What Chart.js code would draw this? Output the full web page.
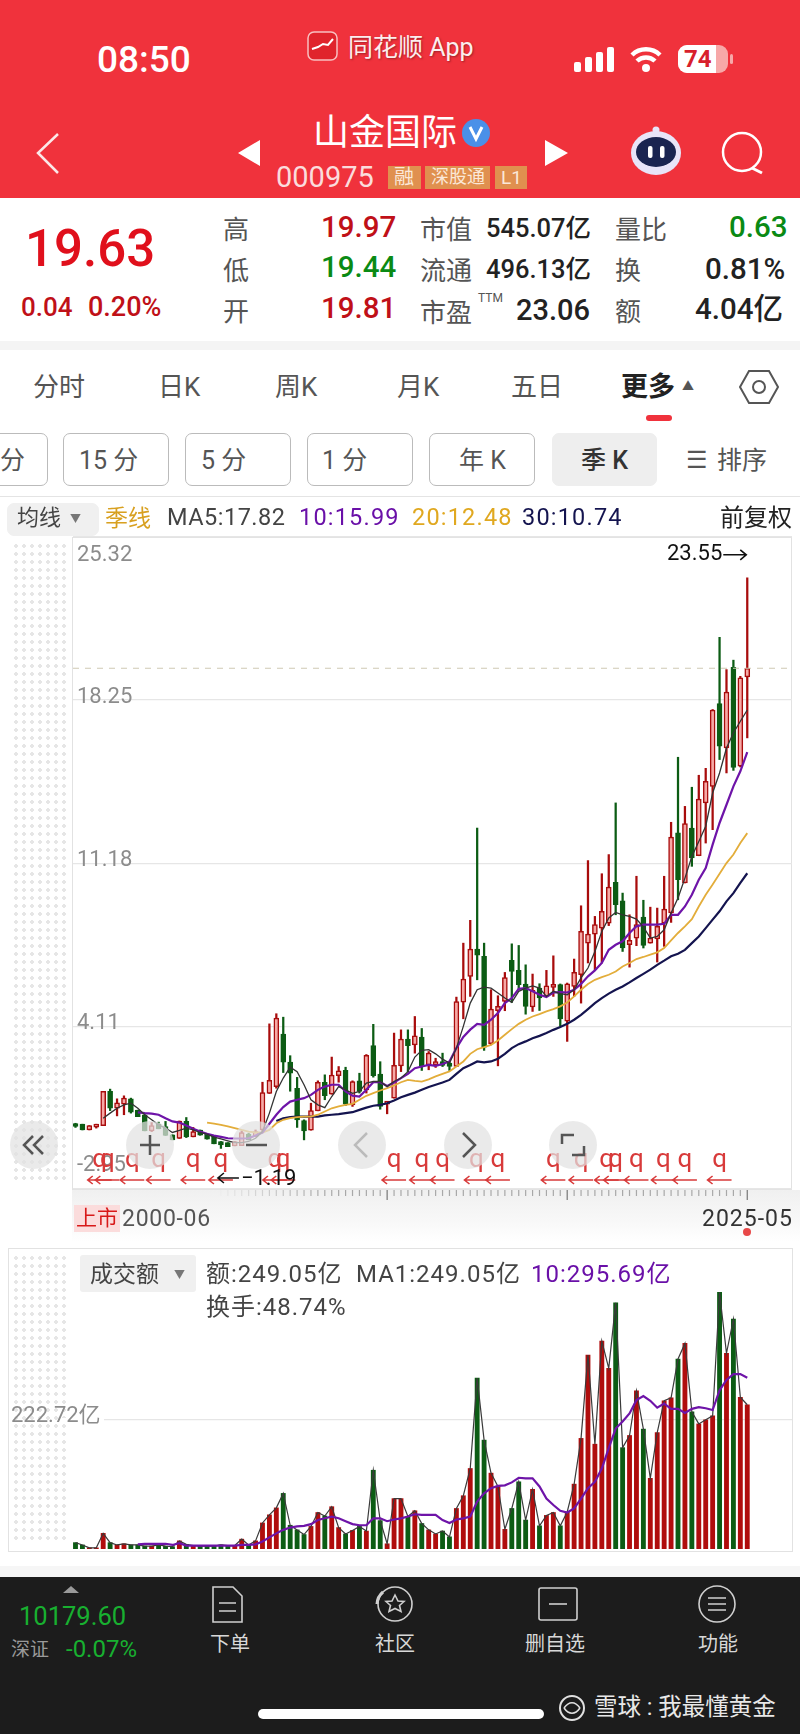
<!DOCTYPE html>
<html>
<head>
<meta charset="utf-8">
<script src="https://cdn.jsdelivr.net/npm/chart.js@4"></script>
<style>
html, body { margin: 0; padding: 0; background: #fff; }
#page { position: relative; width: 800px; height: 1734px; overflow: hidden; font-family: Roboto, "Noto Sans CJK SC", sans-serif; }
.t { position: absolute; white-space: nowrap; transform: translateY(-50%); line-height: 1; }
.box { position: absolute; box-sizing: border-box; }
canvas { position: absolute; left: 0; }
.dots { position: absolute; background-image: radial-gradient(#e6e6e6 1.6px, transparent 1.8px); background-size: 8px 8px; }
.circle { position: absolute; width: 48px; height: 48px; border-radius: 50%; background: rgba(226,226,226,.72); z-index: 5; }
.circle svg { position: absolute; left: 0; top: 0; }
</style>
</head>
<body>
<div id="page">
  <div class="box" style="left:0;top:0;width:800px;height:198px;background:#f0323c"></div>
  <div class="box" style="left:0;top:341px;width:800px;height:9px;background:#f4f4f4"></div>
  <div class="box" style="left:0;top:496px;width:800px;height:1px;background:#e4e4e4"></div>

  <!-- top bar icons -->
  <svg class="box" style="left:0;top:0" width="800" height="198" fill="none">
    <rect x="308" y="32" width="29" height="28" rx="6" fill="#e0242c" stroke="#f8c0c0" stroke-width="1.5"/>
    <path d="M312 49l6-2 5-3 5 1 5-6" stroke="#fff" stroke-width="2"/>
    <g fill="#fff">
      <rect x="574" y="62" width="7" height="10" rx="2"/><rect x="585" y="57" width="7" height="15" rx="2"/>
      <rect x="596" y="52" width="7" height="20" rx="2"/><rect x="607" y="47" width="7" height="25" rx="2"/>
      <rect x="678" y="45" width="50" height="28" rx="9" fill="#f7a8a8"/>
      <path d="M687 45h29v28h-29a9 9 0 0 1-9-9v-10a9 9 0 0 1 9-9z"/>
      <rect x="730" y="54" width="3" height="10" rx="1.5" fill="#f7a8a8"/>
      <circle cx="646" cy="68" r="4"/>
    </g>
    <path d="M632 55a20 20 0 0 1 28 0M637 61a13 13 0 0 1 18 0" stroke="#fff" stroke-width="4.5"/>
    <path d="M58 134L38 153l20 20" stroke="#fbe8e8" stroke-width="2.5"/>
    <path d="M260 140v26l-22-13zM545 140v26l23-13z" fill="#fff"/>
    <circle cx="476" cy="133" r="14" fill="#4a90e8"/>
    <path d="M470 127l6 12 6-12" stroke="#fff" stroke-width="3"/>
    <circle cx="742" cy="152" r="19" stroke="#fff" stroke-width="2.5"/>
    <path d="M752 168l10 5" stroke="#fff" stroke-width="3"/>
    <circle cx="656" cy="130" r="3.5" fill="#e8e4f8"/>
    <ellipse cx="656" cy="153" rx="25" ry="22" fill="#e8e4f8"/>
    <ellipse cx="656" cy="152" rx="20" ry="15" fill="#1a2450"/>
    <rect x="648" y="146" width="4.5" height="12" rx="2" fill="#fff"/><rect x="660" y="146" width="4.5" height="12" rx="2" fill="#fff"/>
  </svg>
  <div class="box" style="left:388px;top:166px;width:33px;height:23px;background:#e0904f"></div>
  <div class="box" style="left:425px;top:166px;width:65px;height:23px;background:#e0904f"></div>
  <div class="box" style="left:495px;top:166px;width:32px;height:23px;background:#e0904f"></div>

  <div id="labels"></div>

  <!-- price pane -->
  <div class="dots" style="left:12px;top:542px;width:58px;height:640px"></div>
  <div class="box" style="left:72px;top:537px;width:720px;height:653px;border:1.5px solid #e2e2e2;background:#fff"></div>
  <div class="box" style="left:72px;top:1190px;width:728px;height:52px;background:linear-gradient(#f0f0f0,#f8f8f8 60%,#fff)"></div>
  <canvas id="priceChart" style="top:500px"></canvas>

  <div class="circle" style="left:10px;top:1121px"><svg width="48" height="48" fill="none" stroke="#555" stroke-width="2.5"><path d="M23 15l-9 9 9 9M33 15l-9 9 9 9"/></svg></div>
  <div class="circle" style="left:126px;top:1121px"><svg width="48" height="48" fill="none" stroke="#555" stroke-width="2.5"><path d="M14 24h20M24 14v20"/></svg></div>
  <div class="circle" style="left:232px;top:1121px"><svg width="48" height="48" fill="none" stroke="#555" stroke-width="2.5"><path d="M14 24h21"/></svg></div>
  <div class="circle" style="left:338px;top:1121px"><svg width="48" height="48" fill="none" stroke="#bbb" stroke-width="2.5"><path d="M29 12L17 24l12 12"/></svg></div>
  <div class="circle" style="left:444px;top:1121px"><svg width="48" height="48" fill="none" stroke="#555" stroke-width="2.5"><path d="M19 12l12 12-12 12"/></svg></div>
  <div class="circle" style="left:549px;top:1121px"><svg width="48" height="48" fill="none" stroke="#555" stroke-width="2.5"><path d="M13 23v-9h12M35 25v9H23"/></svg></div>

  <div class="box" style="left:74px;top:1205px;width:46px;height:27px;background:#fbdcdc"></div>
  <div class="box" style="left:743px;top:1228px;width:8px;height:8px;border-radius:50%;background:#e84848"></div>

  <!-- volume pane -->
  <div class="dots" style="left:12px;top:1254px;width:58px;height:290px"></div>
  <div class="box" style="left:8px;top:1248px;width:785px;height:304px;border:1.5px solid #e2e2e2"></div>
  <div class="box" style="left:80px;top:1255px;width:116px;height:37px;background:#f0f0f0;border-radius:3px"></div>
  <canvas id="volumeChart" style="top:1240px"></canvas>

  <!-- bottom bar -->
  <div class="box" style="left:0;top:1566px;width:800px;height:11px;background:#f6f6f6"></div>
  <div class="box" style="left:0;top:1577px;width:800px;height:157px;background:#1c1c1c"></div>
  <svg class="box" style="left:0;top:1577px;z-index:2" width="800" height="157" fill="none" stroke="#cfcfcf" stroke-width="1.6">
    <path d="M63 16l8-7 8 7z" fill="#9a9a9a" stroke="none"/>
    <path d="M213 10h20l9 9v26h-29zM219 26h17M219 34h17"/>
    <circle cx="395" cy="27" r="17"/><path d="M383 15a17 17 0 0 0-6 12" stroke-width="3"/><path d="M395 18l3 6 6 .5-4.500 4 1.500 6-6-3-6 3 1.500-6-4.500-4 6-.5z"/>
    <rect x="539" y="11" width="38" height="32" rx="2"/><path d="M549 27h18"/>
    <circle cx="717" cy="27" r="18"/><path d="M708 21h18M708 27h18M708 33h18"/>
    <circle cx="572" cy="131" r="12" stroke="#e0e0e0" stroke-width="2"/><path d="M564 131c5-7 11-7 16 0M564 131c5 7 11 7 16 0" stroke="#e0e0e0" stroke-width="1.6"/>
  </svg>
  <div class="box" style="left:258px;top:1709px;width:286px;height:10px;border-radius:5px;background:#fff;z-index:3"></div>
</div>

<script>
const opens = [-0.11,-0.14,-0.39,-0.20,-0.20,1.28,0.55,0.73,0.96,0.47,0.27,-0.43,-0.14,-0.24,-0.60,-0.76,-0.02,-0.69,-0.39,-0.57,-0.67,-0.89,-0.94,-1.08,-1.07,-0.57,-0.67,-0.39,1.19,1.49,3.77,2.55,1.42,0.02,-0.40,0.44,1.68,1.16,1.96,2.19,0.70,1.74,1.35,3.27,2.03,0.73,0.99,2.39,3.55,3.30,3.64,2.43,2.43,2.58,2.51,2.36,5.15,6.27,7.45,7.14,3.35,4.78,5.18,6.96,6.53,5.94,4.94,5.76,5.40,5.79,5.91,4.33,5.83,6.34,7.71,8.10,8.36,8.58,10.35,9.55,7.64,7.93,8.84,7.71,7.89,8.58,9.02,12.49,10.32,12.70,11.50,13.79,14.51,18.10,16.17,19.67,15.38,19.25];
const highs = [-0.10,-0.14,-0.20,-0.14,1.28,1.38,0.96,1.09,0.99,0.47,0.27,-0.07,-0.05,-0.02,-0.60,0.00,0.15,-0.28,-0.39,-0.57,-0.67,-0.89,-0.94,-0.89,-0.43,-0.53,-0.39,1.68,4.21,4.65,4.50,2.83,1.89,0.05,0.77,1.74,2.00,2.77,2.36,2.33,1.74,2.07,2.88,4.19,2.57,0.84,3.81,3.95,3.95,4.53,4.01,3.01,2.72,2.94,2.58,5.37,7.71,8.70,12.70,7.71,5.69,5.43,6.44,7.68,7.61,6.77,6.37,5.95,6.53,7.16,5.94,5.98,7.02,9.33,11.29,8.87,10.72,11.55,13.79,9.88,8.94,10.61,9.57,9.27,9.23,10.61,12.95,15.77,13.64,14.47,14.99,15.29,17.84,20.97,19.57,19.98,19.28,23.55];
const lows = [-0.28,-0.39,-0.39,-0.31,-0.20,0.45,0.22,0.27,0.34,0.19,-0.43,-0.46,-0.34,-0.63,-0.82,-0.76,-0.72,-0.69,-0.62,-0.79,-0.99,-1.19,-1.11,-1.08,-1.07,-0.82,-0.67,-0.46,1.19,1.42,2.10,1.29,-0.28,-0.82,-0.40,0.44,0.92,1.16,1.68,0.67,0.63,1.21,1.21,1.90,0.51,0.31,0.99,2.14,2.14,2.94,2.19,2.22,2.32,2.36,2.19,2.36,4.43,5.40,6.12,3.06,3.30,2.39,4.78,5.14,5.69,4.63,4.75,4.79,5.40,5.40,4.10,3.45,5.40,5.11,6.85,6.56,6.85,8.47,8.94,7.35,6.67,7.60,7.50,7.71,6.89,7.57,8.61,9.59,10.32,11.04,11.50,12.05,12.63,15.67,15.09,15.20,15.35,16.61];
const closes = [-0.20,-0.39,-0.20,-0.14,1.28,0.55,0.79,0.99,0.38,0.19,-0.43,-0.20,-0.34,-0.63,-0.82,0.00,-0.69,-0.46,-0.62,-0.79,-0.99,-1.04,-1.11,-0.89,-0.50,-0.82,-0.46,1.23,1.76,4.46,2.55,2.07,0.05,-0.43,0.45,1.68,1.10,1.99,2.17,0.73,1.71,1.28,2.85,1.96,0.63,0.81,2.41,3.55,3.26,3.69,2.36,2.94,2.58,2.41,2.36,5.18,6.15,7.45,7.19,3.20,4.85,4.97,6.22,6.48,5.91,4.97,5.66,5.33,5.86,5.91,4.42,5.95,6.44,8.22,8.10,8.52,9.09,10.14,9.38,7.50,7.83,8.51,7.61,7.93,8.44,9.19,12.31,10.46,12.89,11.40,13.96,14.73,17.82,16.25,18.60,15.33,19.21,19.63];

const ma5 = [null,null,null,null,0.12,0.34,0.55,0.70,0.77,0.55,0.27,0.05,-0.17,-0.31,-0.50,-0.41,-0.31,-0.39,-0.50,-0.57,-0.70,-0.78,-0.86,-0.94,-0.94,-0.89,-0.75,-0.46,0.34,1.28,1.86,2.33,2.14,1.57,0.92,0.70,0.58,1.06,1.49,1.35,1.20,1.28,1.64,1.71,1.71,1.49,1.71,1.86,2.14,2.77,3.06,3.09,2.91,2.68,2.51,3.16,4.10,5.11,5.69,5.80,5.76,5.55,5.33,5.14,5.62,5.76,5.86,5.76,5.40,5.62,5.52,5.47,5.69,6.20,6.63,7.35,8.22,8.80,9.04,8.94,8.87,8.75,8.41,7.93,8.00,8.29,9.02,9.67,10.53,11.47,12.12,12.78,14.22,15.09,16.17,16.82,17.33,17.82];
const ma10 = [null,null,null,null,null,null,null,null,null,0.37,0.34,0.32,0.27,0.12,-0.02,-0.07,-0.20,-0.34,-0.46,-0.56,-0.63,-0.69,-0.75,-0.76,-0.76,-0.75,-0.63,-0.50,-0.12,0.27,0.60,0.84,0.92,0.99,1.13,1.35,1.49,1.57,1.57,1.28,1.10,1.06,1.35,1.68,1.68,1.52,1.67,1.86,2.04,2.29,2.36,2.43,2.39,2.47,2.58,3.16,3.64,3.96,4.21,4.17,4.39,4.68,5.11,5.33,5.73,5.76,5.62,5.47,5.37,5.57,5.59,5.57,5.69,5.94,6.27,6.53,6.85,7.42,7.64,7.79,8.15,8.44,8.51,8.51,8.51,8.55,8.94,8.94,9.30,9.81,10.46,10.97,11.98,12.92,13.71,14.51,15.16,15.99];
const ma20 = [null,null,null,null,null,null,null,null,null,null,null,null,null,null,null,null,null,null,null,-0.07,-0.12,-0.17,-0.24,-0.31,-0.39,-0.46,-0.50,-0.50,-0.39,-0.10,0.05,0.12,0.17,0.19,0.19,0.27,0.41,0.55,0.63,0.70,0.74,0.92,1.09,1.21,1.32,1.42,1.54,1.68,1.78,1.74,1.71,1.80,1.93,2.04,2.15,2.36,2.58,2.91,3.11,3.20,3.30,3.49,3.74,3.98,4.21,4.39,4.53,4.63,4.75,4.85,4.97,5.14,5.40,5.69,5.94,6.12,6.24,6.34,6.48,6.70,6.85,7.02,7.11,7.21,7.31,7.50,7.83,8.15,8.44,8.75,9.30,9.81,10.25,10.72,11.18,11.55,12.05,12.48];
const ma30 = [null,null,null,null,null,null,null,null,null,null,null,null,null,null,null,null,null,null,null,null,null,null,null,null,null,null,null,null,null,0.00,0.12,0.17,0.19,0.19,0.19,0.19,0.24,0.27,0.30,0.34,0.38,0.48,0.58,0.66,0.70,0.77,0.89,1.03,1.13,1.23,1.35,1.47,1.57,1.67,1.78,2.04,2.29,2.43,2.58,2.54,2.58,2.70,2.91,3.16,3.33,3.45,3.59,3.69,3.81,3.95,4.07,4.21,4.39,4.60,4.85,5.11,5.33,5.52,5.69,5.83,6.01,6.20,6.38,6.56,6.77,6.95,7.14,7.25,7.42,7.71,8.00,8.36,8.73,9.09,9.52,9.88,10.32,10.74];

// 成交额, 亿
const amounts = [11,7,2,2,27,11,7,9,7,7,5,5,7,5,4,14,8,6,5,5,5,7,6,6,17,7,14,45,59,71,96,41,33,25,39,63,57,73,37,26,32,39,31,136,49,9,87,87,56,66,44,33,26,31,21,70,92,139,295,188,131,108,34,70,116,50,103,40,58,63,40,64,112,191,335,181,359,312,425,175,196,273,207,122,201,256,261,328,355,237,216,223,230,443,338,397,262,249.05];
const amountMa10 = [null,null,null,null,null,null,null,null,null,8,9,9,9,9,7,10,6,6,6,6,6,6,6,6,7,7,8,13,20,27,33,37,39,40,43,50,53,56,53,48,43,41,41,53,53,48,51,53,56,60,59,59,59,50,45,51,53,56,82,96,105,109,110,115,123,122,122,108,87,76,66,63,70,87,105,116,139,174,208,220,234,257,264,256,244,251,242,242,235,242,245,243,240,274,292,302,302,295.69];

const priceTicks = [25.32, 18.25, 11.18, 4.11, -2.95];
const amountTicks = [222.72];
const lastClose = 19.63;
const highMark = 23.55;
const lowMark = -1.19;
const lowMarkIndex = 21;
// 闪电信号 q 的位置(第几根K线)
const signalIndex = [3.5,4.6,8.2,12,17,21,28.8,30,46,50,53,57.9,61,69,73,76.7,78,81,84.9,88,93];

const RED = '#a80c0c', PINK = '#f6a9a6', GREEN = '#0c5c14';
const isUp = i => closes[i] >= opens[i];
const xMin = -0.36, xMax = 103.46;

function linea(valores, color, ancho) {
    return {
        type: 'line',
        data: valores.map((v, i) => ({x: i, y: v})),
        borderColor: color,
        borderWidth: ancho,
        pointRadius: 0,
        tension: 0,
        order: 0
    };
}

const marcas = {
    id: 'marcas',
    afterDatasetsDraw(chart) {
        const {ctx, chartArea, scales: {x, y}} = chart;
        ctx.save();
        // dashed last price
        ctx.strokeStyle = '#cfc9b4';
        ctx.lineWidth = 1.2;
        ctx.setLineDash([6, 6]);
        ctx.beginPath();
        ctx.moveTo(chartArea.left, y.getPixelForValue(lastClose));
        ctx.lineTo(chartArea.right, y.getPixelForValue(lastClose));
        ctx.stroke();
        ctx.setLineDash([]);

        // axis labels
        ctx.font = '22px Roboto';
        ctx.fillStyle = '#8c8c8c';
        ctx.textBaseline = 'middle';
        ctx.fillText(priceTicks[0], chartArea.left + 4, y.getPixelForValue(priceTicks[0]) + 18);
        ctx.fillText(priceTicks[1], chartArea.left + 4, y.getPixelForValue(priceTicks[1]) - 3);
        ctx.fillText(priceTicks[2], chartArea.left + 4, y.getPixelForValue(priceTicks[2]) - 3);
        ctx.fillText(priceTicks[3], chartArea.left + 4, y.getPixelForValue(priceTicks[3]) - 3);
        ctx.fillText(priceTicks[4], chartArea.left + 4, y.getPixelForValue(priceTicks[4]) - 24);

        // q signals
        ctx.textAlign = 'center';
        signalIndex.forEach(idx => {
            const px = x.getPixelForValue(idx);
            ctx.fillStyle = '#d83a3a';
            ctx.font = '26px Roboto';
            ctx.fillText('q', px, chartArea.bottom - 29);
            ctx.strokeStyle = '#d83a3a';
            ctx.lineWidth = 1.6;
            ctx.beginPath();
            ctx.moveTo(px + 12, chartArea.bottom - 9);
            ctx.lineTo(px - 12, chartArea.bottom - 9);
            ctx.moveTo(px - 7, chartArea.bottom - 13);
            ctx.lineTo(px - 12, chartArea.bottom - 9);
            ctx.lineTo(px - 7, chartArea.bottom - 5);
            ctx.stroke();
        });

        // high / low notes
        ctx.fillStyle = '#111';
        ctx.font = '22px Roboto';
        ctx.textAlign = 'right';
        ctx.fillText(highMark, x.getPixelForValue(97) - 25, y.getPixelForValue(highMark) - 23);
        ctx.textAlign = 'left';
        ctx.fillText('−' + Math.abs(lowMark), x.getPixelForValue(lowMarkIndex) + 20, chartArea.bottom - 10);
        ctx.strokeStyle = '#111';
        ctx.lineWidth = 1.6;
        [[x.getPixelForValue(97) - 24, x.getPixelForValue(97) - 1, 1, y.getPixelForValue(highMark) - 23],
         [x.getPixelForValue(lowMarkIndex) + 18, x.getPixelForValue(lowMarkIndex) - 3, -1, chartArea.bottom - 11]].forEach(a => {
            ctx.beginPath();
            ctx.moveTo(a[0], a[3]);
            ctx.lineTo(a[1], a[3]);
            ctx.moveTo(a[1] - 6 * a[2], a[3] - 5);
            ctx.lineTo(a[1], a[3]);
            ctx.lineTo(a[1] - 6 * a[2], a[3] + 5);
            ctx.stroke();
        });

        // x axis tick strip
        for (let i = 21; i <= 97; i++) {
            const px = x.getPixelForValue(i);
            const grande = i === 45 || i === 71 || i === 97;
            ctx.strokeStyle = grande ? '#777' : 'rgba(150,150,150,' + Math.min(0.8, (i - 20) / 20) + ')';
            ctx.lineWidth = 1.2;
            ctx.beginPath();
            ctx.moveTo(px, chartArea.bottom + 1);
            ctx.lineTo(px, chartArea.bottom + (grande ? 11 : 7));
            ctx.stroke();
        }
        ctx.restore();
    }
};

function generarPrecio() {
    const canvas = document.getElementById('priceChart');
    canvas.width = 800;
    canvas.height = 740;
    new Chart(canvas.getContext('2d'), {
        type: 'bar',
        data: {
            datasets: [
                linea(ma5, '#333333', 1.3),
                linea(ma10, '#6e14a8', 2.2),
                linea(ma20, '#e3ad3a', 1.8),
                linea(ma30, '#14144f', 2.2),
                {
                    data: opens.map((o, i) => ({x: i, y: [Math.min(o, closes[i]), Math.max(o, closes[i])]})),
                    backgroundColor: opens.map((o, i) => isUp(i) ? PINK : GREEN),
                    borderColor: opens.map((o, i) => isUp(i) ? RED : GREEN),
                    borderWidth: 1.5,
                    borderSkipped: false,
                    barThickness: 5,
                    minBarLength: 3,
                    grouped: false,
                    order: 1
                },
                {
                    data: highs.map((h, i) => ({x: i, y: [lows[i], h]})),
                    backgroundColor: opens.map((o, i) => isUp(i) ? RED : GREEN),
                    barThickness: 1.6,
                    grouped: false,
                    order: 2
                }
            ]
        },
        options: {
            responsive: false,
            animation: false,
            devicePixelRatio: 1,
            layout: {padding: {left: 73, right: 8, top: 37, bottom: 51}},
            plugins: {legend: {display: false}, tooltip: {enabled: false}},
            scales: {
                x: {type: 'linear', offset: false, display: false, min: xMin, max: xMax},
                y: {
                    min: priceTicks[4],
                    max: priceTicks[0],
                    afterBuildTicks: axis => { axis.ticks = priceTicks.map(v => ({value: v})); },
                    ticks: {display: false},
                    border: {display: false},
                    grid: {color: '#e6e6e6', drawTicks: false, lineWidth: 1.2}
                }
            }
        },
        plugins: [marcas]
    });
}

const etiquetaVolumen = {
    id: 'etiquetaVolumen',
    afterDatasetsDraw(chart) {
        const {ctx, scales: {y}} = chart;
        ctx.save();
        ctx.font = '22px Roboto, "Noto Sans CJK SC"';
        ctx.textBaseline = 'middle';
        ctx.textAlign = 'left';
        ctx.fillStyle = '#fff';
        ctx.fillRect(60, y.getPixelForValue(amountTicks[0]) - 2, 44, 4);
        ctx.fillStyle = '#8c8c8c';
        ctx.fillText(amountTicks[0] + '亿', 11, y.getPixelForValue(amountTicks[0]) - 4);
        ctx.restore();
    }
};

function generarVolumen() {
    const canvas = document.getElementById('volumeChart');
    canvas.width = 800;
    canvas.height = 320;
    new Chart(canvas.getContext('2d'), {
        type: 'bar',
        data: {
            datasets: [
                linea(amountMa10, '#6e14a8', 2.2),
                linea(amounts, '#3a3a3a', 1.2),
                {
                    data: amounts.map((v, i) => ({x: i, y: v})),
                    backgroundColor: amounts.map((v, i) => isUp(i) ? '#b00d0d' : '#0c5c14'),
                    barThickness: 4.2,
                    grouped: false,
                    order: 1
                }
            ]
        },
        options: {
            responsive: false,
            animation: false,
            devicePixelRatio: 1,
            layout: {padding: {left: 73, right: 8, top: 9, bottom: 11}},
            plugins: {legend: {display: false}, tooltip: {enabled: false}},
            scales: {
                x: {type: 'linear', offset: false, display: false, min: xMin, max: xMax},
                y: {
                    min: 0,
                    max: 518,
                    afterBuildTicks: axis => { axis.ticks = amountTicks.map(v => ({value: v})); },
                    ticks: {display: false},
                    border: {display: false},
                    grid: {color: '#e6e6e6', drawTicks: false, lineWidth: 1.2}
                }
            }
        },
        plugins: [etiquetaVolumen]
    });
}

// texto de la interfaz: [x, y centro, texto, tamaño, color, extra]
const wide = 'letter-spacing:1.2px';
const textos = [
    [97, 59, '08:50', 37, '#fff', 'font-weight:500'],
    [348, 47, '同花顺 App', 25, '#fbeeee', 'text-shadow:1px 1px 2px #a02028'],
    [684, 59, '74', 24, '#d8202c', 'font-weight:700'],
    [313, 133, '山金国际', 36, '#fff', ''],
    [276, 177, '000975', 29, '#fbdcdc', ''],
    [394, 177, '融', 20, '#fbe8d8', ''],
    [431, 177, '深股通', 18, '#fbe8d8', ''],
    [501, 177, 'L1', 19, '#fbe8d8', ''],
    [25, 248, '19.63', 51, '#e0101c', 'font-weight:500'],
    [21, 307, '0.04', 26, '#c01018', 'font-weight:500'],
    [88, 307, '0.20%', 27, '#c01018', 'font-weight:500'],
    [223, 230, '高', 26, '#555', ''],
    [223, 271, '低', 26, '#555', ''],
    [223, 312, '开', 26, '#555', ''],
    [321, 228, '19.97', 29.5, '#c01018', 'font-weight:500'],
    [321, 268, '19.44', 29.5, '#0a8a14', 'font-weight:500'],
    [321, 309, '19.81', 29.5, '#c01018', 'font-weight:500'],
    [420, 230, '市值', 26, '#555', ''],
    [420, 271, '流通', 26, '#555', ''],
    [420, 313, '市盈', 26, '#555', ''],
    [478, 298, 'TTM', 12, '#555', ''],
    [486, 229, '545.07亿', 25.5, '#222', 'font-weight:500'],
    [486, 270, '496.13亿', 25.5, '#222', 'font-weight:500'],
    [516, 310, '23.06', 29, '#222', 'font-weight:500'],
    [615, 230, '量比', 26, '#555', ''],
    [615, 271, '换', 26, '#555', ''],
    [615, 312, '额', 26, '#555', ''],
    [729, 228, '0.63', 29.5, '#0a8a14', 'font-weight:500'],
    [705, 270, '0.81%', 29.5, '#222', 'font-weight:500'],
    [695, 310, '4.04亿', 29.5, '#222', 'font-weight:500'],
    [33, 387, '分时', 26, '#555', ''],
    [158, 387, '日K', 26, '#555', ''],
    [275, 387, '周K', 26, '#555', ''],
    [397, 387, '月K', 26, '#555', ''],
    [511, 387, '五日', 26, '#555', ''],
    [621, 387, '更多', 27, '#222', 'font-weight:700'],
    [682, 387, '▲', 12, '#555', ''],
    [0, 460, '分', 25, '#555', ''],
    [79, 460, '15 分', 25, '#555', ''],
    [201, 460, '5 分', 25, '#555', ''],
    [322, 460, '1 分', 25, '#555', ''],
    [459, 460, '年 K', 25, '#555', ''],
    [581, 460, '季 K', 25, '#333', 'font-weight:500'],
    [686, 460, '☰', 24, '#555', ''],
    [717, 460, '排序', 25, '#555', ''],
    [17, 518, '均线', 22, '#444', ''],
    [70, 519, '▼', 11, '#777', ''],
    [105, 518, '季线', 23, '#d8a020', ''],
    [167, 518, 'MA5:17.82', 23.5, '#444', 'letter-spacing:.5px'],
    [299, 518, '10:15.99', 23.5, '#6a10a8', wide],
    [412, 518, '20:12.48', 23.5, '#e0a820', wide],
    [522, 518, '30:10.74', 23.5, '#14144f', wide],
    [720, 518, '前复权', 24, '#222', ''],
    [76, 1218, '上市', 21, '#d81818', ''],
    [122, 1218, '2000-06', 23, '#555', 'letter-spacing:.7px'],
    [702, 1218, '2025-05', 23, '#333', 'letter-spacing:1px'],
    [90, 1274, '成交额', 23, '#444', ''],
    [174, 1275, '▼', 11, '#777', ''],
    [206, 1274, '额:249.05亿', 24, '#444', 'letter-spacing:1px'],
    [356, 1274, 'MA1:249.05亿', 24, '#444', 'letter-spacing:1px'],
    [531, 1274, '10:295.69亿', 24, '#6a10a8', 'letter-spacing:1px'],
    [206, 1307, '换手:48.74%', 24, '#444', 'letter-spacing:1px'],
    [19, 1617, '10179.60', 25.5, '#18b030', 'z-index:3'],
    [11, 1649, '深证', 19, '#9a9a9a', 'z-index:3'],
    [66, 1649, '-0.07%', 24, '#18b030', 'z-index:3'],
    [210, 1644, '下单', 20, '#d8d8d8', 'z-index:3'],
    [375, 1644, '社区', 20, '#d8d8d8', 'z-index:3'],
    [525, 1644, '删自选', 20, '#d8d8d8', 'z-index:3'],
    [698, 1644, '功能', 20, '#d8d8d8', 'z-index:3'],
    [594, 1708, '雪球 : 我最懂黄金', 23.5, '#e8e8e8', 'z-index:4']
];

const contenedor = document.getElementById('labels');
textos.forEach(t => {
    const el = document.createElement('div');
    el.className = 't';
    el.textContent = t[2];
    el.style.cssText = `left:${t[0]}px;top:${t[1]}px;font-size:${t[3]}px;color:${t[4]};z-index:6;${t[5]}`;
    contenedor.appendChild(el);
});

// cajas de botones y pestañas
const cajas = [
    [-12, 433, 60, 53, '#bbb', '#fff'],
    [63, 433, 106, 53, '#bbb', '#fff'],
    [185, 433, 106, 53, '#bbb', '#fff'],
    [307, 433, 106, 53, '#bbb', '#fff'],
    [429, 433, 106, 53, '#bbb', '#fff'],
    [552, 433, 105, 53, '#eee', '#eee'],
    [7, 503, 92, 33, '#f0f0f0', '#f0f0f0']
];
cajas.forEach(c => {
    const el = document.createElement('div');
    el.className = 'box';
    el.style.cssText = `left:${c[0]}px;top:${c[1]}px;width:${c[2]}px;height:${c[3]}px;border:1.5px solid ${c[4]};background:${c[5]};border-radius:7px`;
    contenedor.appendChild(el);
});
const linea1 = document.createElement('div');
linea1.className = 'box';
linea1.style.cssText = 'left:646px;top:415px;width:26px;height:6px;border-radius:3px;background:#f0323c';
contenedor.appendChild(linea1);
contenedor.insertAdjacentHTML('beforeend', '<svg class="box" style="left:738px;top:367px" width="42" height="40" fill="none" stroke="#555" stroke-width="2"><path d="M11 4h20l9 16-9 16H11L2 20z"/><circle cx="21" cy="20" r="6"/></svg>');

generarPrecio();
generarVolumen();
</script>
</body>
</html>
